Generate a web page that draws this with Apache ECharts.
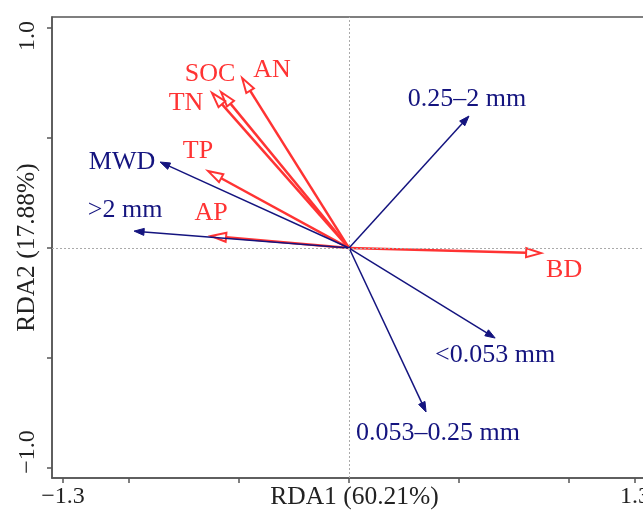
<!DOCTYPE html>
<html>
<head>
<meta charset="utf-8">
<script src="https://cdn.jsdelivr.net/npm/echarts@6.0.0/dist/echarts.min.js"></script>
<style>
  html, body { margin: 0; padding: 0; background: #fff; }
  #container { width: 643px; height: 510px; }
</style>
</head>
<body>
<div id="container"></div>
<script>
// soil properties (red, open heads)
const envNames = ["BD", "AN", "SOC", "TN", "TP", "AP"];
const envRDA1 = [0.873, -0.486, -0.582, -0.623, -0.641, -0.627];
const envRDA2 = [-0.023, 0.773, 0.709, 0.705, 0.35, 0.055];

// aggregate fractions (blue, filled heads)
const aggNames = ["MWD", ">2 mm", "0.25\u20132 mm", "<0.053 mm", "0.053\u20130.25 mm"];
const aggRDA1 = [-0.859, -0.977, 0.545, 0.664, 0.35];
const aggRDA2 = [0.391, 0.077, 0.6, -0.409, -0.745];

const xTicks = [-1.3, -1, -0.5, 0, 0.5, 1, 1.3];
const xTickLabels = [-1.3, 1.3];
const yTicks = [-1, -0.5, 0, 0.5, 1];
const yTickLabels = [-1, 1];

const RED = "#ff3333";
const BLUE = "#14147f";
const FONT = "'Liberation Serif', 'DejaVu Serif', serif";

// where each label sits relative to its arrow tip (px)
const labelShift = {
  "BD": [23, 17],
  "AN": [30, -8],
  "SOC": [-11, -18],
  "TN": [-26, 10],
  "TP": [-10, -20],
  "AP": [0, -23],
  "MWD": [-38, 0],
  ">2 mm": [-9, -21],
  "0.25\u20132 mm": [-2, -17],
  "<0.053 mm": [0, 17],
  "0.053\u20130.25 mm": [12, 21],
};

function fmt(v) {
  return (v < 0 ? "\u2212" : "") + Math.abs(v).toFixed(1);
}

function arrowRenderer(names, color, open) {
  return function (params, api) {
    const o = api.coord([0, 0]);
    const p = api.coord([api.value(0), api.value(1)]);
    const dx = p[0] - o[0];
    const dy = p[1] - o[1];
    const len = Math.sqrt(dx * dx + dy * dy);
    const ux = dx / len;
    const uy = dy / len;
    const hl = open ? 15 : 10;
    const hw = open ? 9 : 7;
    const bx = p[0] - ux * hl;
    const by = p[1] - uy * hl;
    const a = [bx - (uy * hw) / 2, by + (ux * hw) / 2];
    const b = [bx + (uy * hw) / 2, by - (ux * hw) / 2];
    const name = names[params.dataIndex];
    const sh = labelShift[name] || [0, 0];
    return {
      type: "group",
      children: [
        {
          type: "line",
          shape: { x1: o[0], y1: o[1], x2: open ? bx : bx + ux * 3, y2: open ? by : by + uy * 3 },
          style: { stroke: color, lineWidth: open ? 2.5 : 1.5 },
        },
        {
          type: "polygon",
          shape: { points: [p, a, b] },
          style: { fill: open ? "#fff" : color, stroke: color, lineWidth: open ? 2 : 1 },
        },
        {
          type: "text",
          x: p[0] + sh[0],
          y: p[1] + sh[1],
          style: {
            text: name,
            fill: color,
            font: "26px " + FONT,
            align: "center",
            verticalAlign: "middle",
          },
        },
      ],
    };
  };
}

const dom = document.getElementById("container");
const myChart = echarts.init(dom, null, { renderer: "canvas" });

const axisColor = "#555";

const option = {
  animation: false,
  grid: {
    left: 52,
    right: -2,
    top: 17,
    bottom: 32,
    show: true,
    borderColor: axisColor,
    borderWidth: 1.5,
    outerBoundsMode: "none",
  },
  xAxis: {
    type: "value",
    min: -1.35,
    max: 1.345,
    name: "RDA1 (60.21%)",
    nameLocation: "middle",
    nameGap: 6,
    nameMoveOverlap: false,
    nameTextStyle: { fontSize: 25.5, fontFamily: FONT, color: "#222", verticalAlign: "top", padding: [0, 0, 0, 12] },
    axisLine: { show: true, onZero: false, lineStyle: { color: axisColor, width: 1.5 } },
    axisTick: { show: true, customValues: xTicks, length: 5, lineStyle: { color: axisColor, width: 1.5 } },
    axisLabel: {
      customValues: xTickLabels,
      formatter: fmt,
      fontSize: 24,
      fontFamily: FONT,
      color: "#222",
      margin: 7,
    },
    splitLine: { show: false },
  },
  yAxis: {
    type: "value",
    min: -1.045,
    max: 1.05,
    name: "RDA2 (17.88%)",
    nameLocation: "middle",
    nameGap: 12,
    nameRotate: 90,
    nameMoveOverlap: false,
    nameTextStyle: { fontSize: 25.5, fontFamily: FONT, color: "#222" },
    axisLine: { show: true, onZero: false, lineStyle: { color: axisColor, width: 1.5 } },
    axisTick: { show: true, customValues: yTicks, length: 5, lineStyle: { color: axisColor, width: 1.5 } },
    axisLabel: {
      customValues: yTickLabels,
      rotate: 90,
      margin: 12,
      formatter: (v) => (v < 0 ? "{lo|" + fmt(v) + "}" : "{hi|" + fmt(v) + "}"),
      fontSize: 24,
      fontFamily: FONT,
      color: "#222",
      rich: {
        lo: { fontSize: 24, fontFamily: FONT, color: "#222", padding: [0, 0, 0, 32] },
        hi: { fontSize: 24, fontFamily: FONT, color: "#222", padding: [0, 16, 0, 0] },
      },
    },
    splitLine: { show: false },
  },
  series: [
    {
      type: "line",
      data: [],
      markLine: {
        silent: true,
        symbol: "none",
        label: { show: false },
        lineStyle: { color: "#aaa", type: [2, 2], width: 1 },
        data: [{ xAxis: 0 }, { yAxis: 0 }],
      },
    },
    {
      type: "custom",
      renderItem: arrowRenderer(envNames, RED, true),
      data: envRDA1.map((x, i) => [x, envRDA2[i]]),
      z: 3,
    },
    {
      type: "custom",
      renderItem: arrowRenderer(aggNames, BLUE, false),
      data: aggRDA1.map((x, i) => [x, aggRDA2[i]]),
      z: 4,
    },
  ],
};

myChart.setOption(option);
</script>
</body>
</html>
